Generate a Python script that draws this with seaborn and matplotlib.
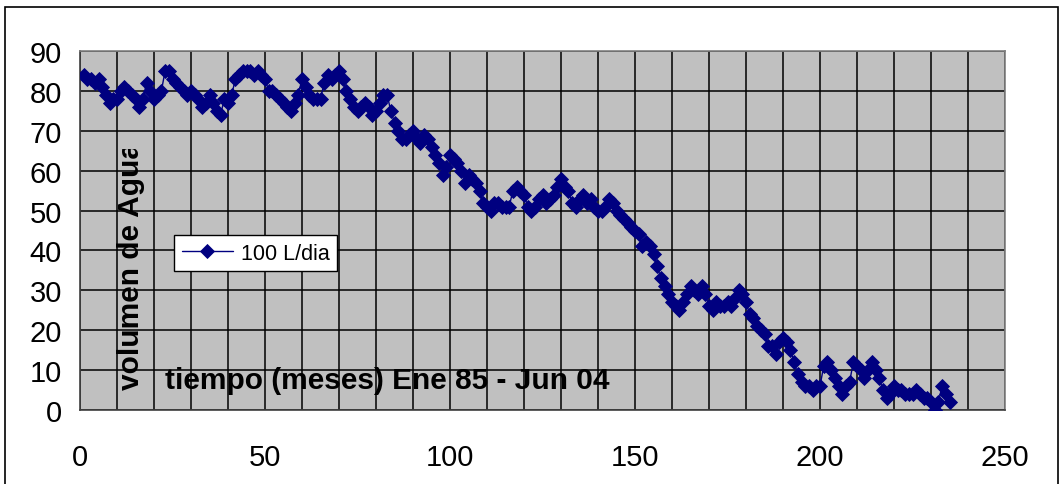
import matplotlib
matplotlib.use("Agg")
import matplotlib.pyplot as plt
import seaborn as sns
import pandas as pd
import numpy as np
from matplotlib.patches import Rectangle
from matplotlib.transforms import Bbox

# ---- data ----
volumen = [
    84, 83, 83, 82, 83, 81, 79, 77, 78, 78,
    80, 81, 80, 79, 78, 76, 78, 82, 80, 78,
    79, 80, 85, 85, 83, 82, 81, 80, 79, 80,
    79, 78, 76, 77, 79, 77, 75, 74, 78, 77,
    79, 83, 84, 85, 85, 85, 84, 85, 84, 83,
    80, 80, 79, 78, 77, 76, 75, 77, 79, 83,
    81, 79, 78, 78, 78, 82, 84, 83, 84, 85,
    83, 80, 78, 76, 75, 76, 77, 76, 74, 75,
    77, 79, 79, 75, 72, 70, 68, 68, 69, 70,
    68, 67, 69, 68, 66, 64, 62, 59, 61, 64,
    63, 62, 60, 57, 59, 58, 57, 55, 52, 51,
    50, 52, 52, 51, 51, 51, 55, 56, 55, 54,
    51, 50, 51, 53, 54, 52, 53, 54, 56, 58,
    56, 55, 52, 51, 53, 54, 52, 53, 51, 50,
    50, 51, 53, 52, 50, 49, 48, 47, 46, 45,
    44, 41, 42, 41, 39, 36, 33, 31, 29, 27,
    26, 25, 27, 29, 31, 30, 29, 31, 29, 26,
    25, 27, 26, 26, 27, 26, 28, 30, 29, 27,
    24, 23, 21, 20, 19, 16, 16, 14, 17, 18,
    17, 15, 12, 9, 7, 6, 6, 5, 6, 6,
    11, 12, 10, 8, 6, 4, 6, 7, 12, 11,
    10, 8, 10, 12, 10, 8, 5, 3, 4, 6,
    5, 5, 4, 4, 4, 5, 4, 3, 3, 2,
    0, 2, 6, 4, 2,
]
meses = list(range(1, len(volumen) + 1))
serie = "100 L/dia"
x_ticks = [0, 50, 100, 150, 200, 250]
y_ticks = [0, 10, 20, 30, 40, 50, 60, 70, 80, 90]
x_label = "tiempo (meses) Ene 85 - Jun 04"
y_label = "volumen de Agua"

df = pd.DataFrame({"mes": meses, "volumen": volumen, "serie": serie})

sns.set_style("white")
plt.rcParams["font.family"] = ["Liberation Sans", "DejaVu Sans"]
plt.rcParams["text.color"] = "#000000"
plt.rcParams["xtick.color"] = "#000000"
plt.rcParams["ytick.color"] = "#000000"

W, H = 1062, 485
fig = plt.figure(figsize=(W / 100, H / 100), dpi=100)
ax = fig.add_axes([80 / W, 1 - 411 / H, (1005 - 80) / W, (411 - 52) / H])
ax.set_facecolor("#C0C0C0")

navy = "#000080"
sns.lineplot(data=df, x="mes", y="volumen", hue="serie", palette=[navy],
             marker="D", markersize=7, markeredgecolor=navy,
             markeredgewidth=0.6, linewidth=1.0, ax=ax, zorder=5)

ax.set_xlim(0, 250)
ax.set_ylim(0, 90)
ax.set_xticks(x_ticks)
ax.set_xticks(np.arange(0, 251, 10), minor=True)
ax.set_yticks(y_ticks)
ax.grid(True, which="both", axis="x", color="#000000", linewidth=1.1, zorder=0)
ax.grid(True, which="major", axis="y", color="#000000", linewidth=1.1, zorder=0)
ax.set_axisbelow(True)
ax.set_yticklabels([str(v) for v in y_ticks], fontsize=21, color="#000000")
ax.set_xticklabels([str(v) for v in x_ticks], fontsize=21, color="#000000")
ax.tick_params(axis="x", which="major", direction="out", length=6, width=1,
               color="#000000", pad=18)
ax.tick_params(axis="x", which="minor", length=0)
ax.tick_params(axis="y", which="major", direction="out", length=7, width=1,
               color="#000000", pad=6)
ax.set_xlabel("")
ax.set_ylabel("")
for s in ["top", "right"]:
    ax.spines[s].set_color("#808080")
    ax.spines[s].set_linewidth(1.2)
for s in ["bottom", "left"]:
    ax.spines[s].set_color("#404040")
    ax.spines[s].set_linewidth(1.2)

# axis titles drawn inside the plot area as in the reference
fig.text(165 / W, 1 - 381 / H, x_label, color="#000000",
         fontsize=21.5, fontweight="bold", ha="left", va="center", zorder=6)
yt = fig.text(131 / W, 1 - 390 / H, y_label, rotation=90, color="#000000",
              fontsize=21.5, fontweight="bold", ha="center", va="bottom", zorder=6)
yt.set_clip_on(True)
yt.set_clip_box(Bbox([[0, 0], [W, H - 150]]))

# legend
handles, labels = ax.get_legend_handles_labels()
leg = ax.legend(handles, labels, loc="center left",
                bbox_to_anchor=(174 / W, 1 - 254 / H), bbox_transform=fig.transFigure,
                fontsize=15.5, frameon=True, fancybox=False, edgecolor="#000000",
                facecolor="white", framealpha=1, handlelength=2.4, handletextpad=0.35,
                borderpad=0.35, borderaxespad=0)
leg.get_frame().set_linewidth(1.0)
for t in leg.get_texts():
    t.set_color("#000000")

# outer chart border
fig.patches.append(Rectangle((5 / W, -0.05), (1058 - 5) / W, 1.05 - 8 / H,
                             transform=fig.transFigure, fill=False,
                             edgecolor="#000000", linewidth=1.2))

fig.savefig("out.png", dpi=100, facecolor="white")
